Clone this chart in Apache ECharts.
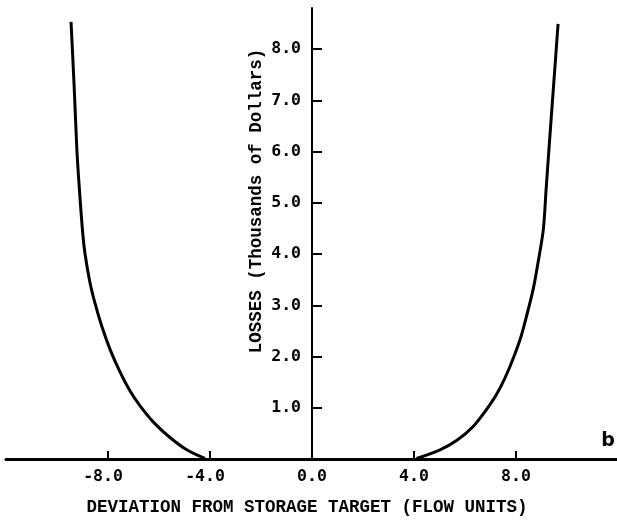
<!DOCTYPE html>
<html>
<head>
<meta charset="utf-8">
<script src="https://cdn.jsdelivr.net/npm/echarts@6/dist/echarts.min.js"></script>
<style>
html,body{margin:0;padding:0;background:#fff;}
#chart{width:617px;height:525px;}
</style>
</head>
<body>
<div id="chart"></div>
<script>
// Data
const leftX  = [-9.45, -9.33, -9.22, -9.12, -8.99, -8.90, -8.71, -8.51, -8.25, -7.92, -7.53, -7.14, -6.75, -6.22, -5.57, -4.91, -4.20];
const leftY  = [ 8.53,  7.30,  6.03,  5.25,  4.40,  4.00,  3.45,  3.04,  2.60,  2.14,  1.70,  1.33,  1.04,  0.72,  0.42,  0.18,  0.01];
const rightX = [4.10, 5.02, 5.67, 6.33, 6.98, 7.37, 7.76, 8.16, 8.42, 8.68, 8.87, 9.07, 9.18, 9.29, 9.47, 9.65];
const rightY = [0.01, 0.18, 0.36, 0.64, 1.06, 1.38, 1.80, 2.33, 2.80, 3.33, 3.85, 4.47, 5.25, 6.03, 7.26, 8.49];
const xTicks = [-8, -4, 0, 4, 8];
const yTicks = [1, 2, 3, 4, 5, 6, 7, 8];
const xTitle = 'DEVIATION FROM STORAGE TARGET (FLOW UNITS)';
const yTitle = 'LOSSES (Thousands of Dollars)';
const panelLetter = 'b';

const zip = (xs, ys) => xs.map((x, i) => [x, ys[i]]);

const chart = echarts.init(document.getElementById('chart'));
const labelFont = '"DejaVu Sans Mono", monospace';
const titleFont = '"Liberation Mono", "Courier New", monospace';

const gridLeft = 6, gridWidth = 612, xMin = -12, xMax = 12;
const yAxisOffset = -gridWidth * (0 - xMin) / (xMax - xMin);

chart.setOption({
  animation: false,
  backgroundColor: '#ffffff',
  grid: { left: gridLeft, width: gridWidth, top: 8, bottom: 66, containLabel: false, outerBoundsMode: 'none' },
  xAxis: {
    type: 'value',
    min: xMin, max: xMax,
    splitLine: { show: false },
    axisLine: { show: true, onZero: false, lineStyle: { color: '#000', width: 3 } },
    axisTick: { show: true, inside: true, length: 8, customValues: xTicks, lineStyle: { color: '#000', width: 2 } },
    axisLabel: {
      show: true, customValues: xTicks, margin: 9,
      color: '#000', fontFamily: labelFont, fontWeight: 'bold', fontSize: 16.5,
      formatter: v => v < 0 ? '{n|' + v.toFixed(1) + '}' : v.toFixed(1),
      rich: { n: { padding: [0, 10, 0, 0], color: '#000', fontFamily: labelFont, fontWeight: 'bold', fontSize: 16.5 } }
    },
    name: xTitle,
    nameLocation: 'middle',
    nameGap: 40,
    nameTextStyle: { color: '#000', fontFamily: titleFont, fontWeight: 'bold', fontSize: 17.5, padding: [0, 10, 0, 0] }
  },
  yAxis: {
    type: 'value',
    min: 0, max: 8.8,
    position: 'left',
    offset: yAxisOffset,
    splitLine: { show: false },
    axisLine: { show: true, onZero: false, lineStyle: { color: '#000', width: 2 } },
    axisTick: { show: true, inside: true, length: 10, customValues: yTicks, lineStyle: { color: '#000', width: 2 } },
    axisLabel: {
      show: true, customValues: yTicks, margin: 11,
      color: '#000', fontFamily: labelFont, fontWeight: 'bold', fontSize: 16.5,
      formatter: v => v.toFixed(1)
    }
  },
  graphic: [
    {
      type: 'text', x: 257, y: 201, rotation: Math.PI / 2,
      style: { text: yTitle, fill: '#000', font: 'bold 17.5px ' + titleFont, align: 'center', verticalAlign: 'middle' }
    },
    {
      type: 'text', x: 608, y: 441,
      style: { text: panelLetter, fill: '#000', font: 'bold 19px "DejaVu Sans", sans-serif', align: 'center', verticalAlign: 'middle' }
    }
  ],
  series: [
    { type: 'line', data: zip(leftX, leftY), smooth: 0.3, showSymbol: false, lineStyle: { color: '#000', width: 3 } },
    { type: 'line', data: zip(rightX, rightY), smooth: 0.3, showSymbol: false, lineStyle: { color: '#000', width: 3 } }
  ]
});
</script>
</body>
</html>
